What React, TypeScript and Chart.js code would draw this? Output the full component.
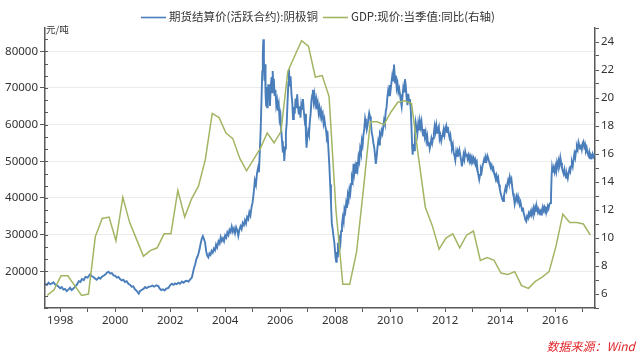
import React, { useEffect, useRef } from 'react';
import { Chart, registerables } from 'chart.js';

Chart.register(...registerables);

// ---- Data (x = position on the chart's year axis) ----
const copperDates: number[] = [
  1997.45, 1997.52, 1997.58, 1997.64, 1997.70, 1997.76, 1997.82, 1997.90, 1998.00, 1998.06,
  1998.12, 1998.18, 1998.24, 1998.30, 1998.36, 1998.42, 1998.48, 1998.55, 1998.62, 1998.68,
  1998.74, 1998.79, 1998.86, 1998.92, 1999.00, 1999.09, 1999.15, 1999.22, 1999.28, 1999.33,
  1999.40, 1999.46, 1999.52, 1999.58, 1999.64, 1999.70, 1999.76, 1999.82, 1999.88, 1999.94,
  2000.00, 2000.06, 2000.12, 2000.18, 2000.24, 2000.30, 2000.36, 2000.42, 2000.48, 2000.55,
  2000.60, 2000.66, 2000.72, 2000.78, 2000.82, 2000.86, 2000.90, 2000.96, 2001.03, 2001.09,
  2001.15, 2001.22, 2001.30, 2001.36, 2001.42, 2001.50, 2001.57, 2001.62, 2001.68, 2001.74,
  2001.80, 2001.86, 2001.94, 2002.00, 2002.06, 2002.12, 2002.18, 2002.24, 2002.30, 2002.36,
  2002.43, 2002.49, 2002.55, 2002.61, 2002.67, 2002.73, 2002.79, 2002.83, 2002.87, 2002.91,
  2002.95, 2002.99, 2003.03, 2003.07, 2003.11, 2003.15, 2003.19, 2003.23, 2003.27, 2003.31,
  2003.35, 2003.39, 2003.43, 2003.47, 2003.51, 2003.55, 2003.59, 2003.63, 2003.67, 2003.71,
  2003.76, 2003.80, 2003.84, 2003.88, 2003.92, 2003.96, 2004.00, 2004.04, 2004.08, 2004.12,
  2004.16, 2004.20, 2004.24, 2004.28, 2004.32, 2004.36, 2004.40, 2004.44, 2004.48, 2004.52,
  2004.56, 2004.60, 2004.64, 2004.68, 2004.72, 2004.76, 2004.80, 2004.84, 2004.88, 2004.92,
  2004.96, 2005.00, 2005.04, 2005.08, 2005.12, 2005.16, 2005.20, 2005.23, 2005.26, 2005.29,
  2005.32, 2005.35, 2005.37, 2005.39, 2005.41, 2005.43, 2005.45, 2005.47, 2005.49, 2005.51,
  2005.53, 2005.55, 2005.57, 2005.59, 2005.61, 2005.63, 2005.66, 2005.69, 2005.71, 2005.73,
  2005.75, 2005.77, 2005.80, 2005.83, 2005.86, 2005.89, 2005.92, 2005.95, 2005.98, 2006.01,
  2006.04, 2006.07, 2006.10, 2006.13, 2006.15, 2006.18, 2006.21, 2006.24, 2006.27, 2006.30,
  2006.32, 2006.35, 2006.38, 2006.41, 2006.44, 2006.47, 2006.50, 2006.53, 2006.56, 2006.59,
  2006.62, 2006.65, 2006.68, 2006.71, 2006.74, 2006.77, 2006.80, 2006.83, 2006.86, 2006.89,
  2006.92, 2006.94, 2006.96, 2006.99, 2007.02, 2007.05, 2007.08, 2007.11, 2007.14, 2007.17,
  2007.19, 2007.22, 2007.25, 2007.28, 2007.31, 2007.34, 2007.37, 2007.40, 2007.43, 2007.46,
  2007.49, 2007.52, 2007.55, 2007.58, 2007.61, 2007.64, 2007.67, 2007.70, 2007.73, 2007.76,
  2007.79, 2007.82, 2007.85, 2007.88, 2007.91, 2007.94, 2007.97, 2008.00, 2008.02, 2008.04,
  2008.06, 2008.08, 2008.10, 2008.13, 2008.16, 2008.19, 2008.22, 2008.25, 2008.28, 2008.31,
  2008.34, 2008.37, 2008.40, 2008.43, 2008.46, 2008.49, 2008.52, 2008.55, 2008.58, 2008.61,
  2008.64, 2008.67, 2008.70, 2008.73, 2008.76, 2008.79, 2008.82, 2008.85, 2008.88, 2008.91,
  2008.94, 2008.97, 2009.00, 2009.03, 2009.06, 2009.09, 2009.12, 2009.15, 2009.18, 2009.21,
  2009.24, 2009.27, 2009.30, 2009.33, 2009.36, 2009.39, 2009.42, 2009.45, 2009.48, 2009.51,
  2009.54, 2009.57, 2009.60, 2009.63, 2009.66, 2009.69, 2009.72, 2009.75, 2009.78, 2009.81,
  2009.84, 2009.87, 2009.90, 2009.93, 2009.96, 2009.99, 2010.02, 2010.05, 2010.08, 2010.11,
  2010.14, 2010.16, 2010.18, 2010.21, 2010.24, 2010.27, 2010.30, 2010.33, 2010.36, 2010.39,
  2010.42, 2010.45, 2010.48, 2010.51, 2010.54, 2010.57, 2010.60, 2010.63, 2010.66, 2010.69,
  2010.72, 2010.75, 2010.78, 2010.80, 2010.82, 2010.85, 2010.87, 2010.90, 2010.93, 2010.96,
  2010.99, 2011.02, 2011.05, 2011.08, 2011.11, 2011.14, 2011.17, 2011.20, 2011.23, 2011.26,
  2011.29, 2011.32, 2011.35, 2011.38, 2011.41, 2011.44, 2011.47, 2011.50, 2011.53, 2011.56,
  2011.59, 2011.62, 2011.65, 2011.68, 2011.71, 2011.74, 2011.77, 2011.80, 2011.83, 2011.86,
  2011.89, 2011.92, 2011.95, 2011.98, 2012.01, 2012.04, 2012.07, 2012.10, 2012.13, 2012.16,
  2012.19, 2012.22, 2012.25, 2012.28, 2012.31, 2012.34, 2012.37, 2012.40, 2012.43, 2012.46,
  2012.49, 2012.52, 2012.55, 2012.58, 2012.61, 2012.64, 2012.67, 2012.70, 2012.73, 2012.76,
  2012.79, 2012.82, 2012.85, 2012.88, 2012.91, 2012.94, 2012.97, 2013.00, 2013.03, 2013.06,
  2013.09, 2013.12, 2013.15, 2013.18, 2013.21, 2013.24, 2013.27, 2013.30, 2013.33, 2013.36,
  2013.39, 2013.42, 2013.45, 2013.48, 2013.51, 2013.54, 2013.57, 2013.60, 2013.63, 2013.66,
  2013.69, 2013.72, 2013.75, 2013.78, 2013.81, 2013.84, 2013.87, 2013.90, 2013.93, 2013.96,
  2013.99, 2014.02, 2014.05, 2014.08, 2014.11, 2014.14, 2014.17, 2014.20, 2014.23, 2014.26,
  2014.29, 2014.32, 2014.35, 2014.38, 2014.41, 2014.44, 2014.47, 2014.50, 2014.53, 2014.56,
  2014.59, 2014.62, 2014.65, 2014.68, 2014.71, 2014.74, 2014.77, 2014.80, 2014.83, 2014.86,
  2014.89, 2014.92, 2014.95, 2014.98, 2015.01, 2015.04, 2015.07, 2015.10, 2015.13, 2015.16,
  2015.19, 2015.22, 2015.25, 2015.28, 2015.31, 2015.34, 2015.37, 2015.40, 2015.43, 2015.46,
  2015.49, 2015.52, 2015.55, 2015.58, 2015.61, 2015.64, 2015.67, 2015.70, 2015.73, 2015.76,
  2015.79, 2015.82, 2015.85, 2015.87, 2015.89, 2015.92, 2015.95, 2015.98, 2016.01, 2016.04,
  2016.07, 2016.10, 2016.13, 2016.16, 2016.19, 2016.22, 2016.25, 2016.28, 2016.31, 2016.34,
  2016.37, 2016.40, 2016.43, 2016.46, 2016.49, 2016.52, 2016.55, 2016.58, 2016.61, 2016.64,
  2016.67, 2016.70, 2016.73, 2016.76, 2016.79, 2016.82, 2016.85, 2016.88, 2016.91, 2016.94,
  2016.97, 2017.00, 2017.03, 2017.06, 2017.09, 2017.12, 2017.15, 2017.18, 2017.21, 2017.24,
  2017.27, 2017.30, 2017.33, 2017.36, 2017.39, 2017.42, 2017.45,
];

const copperPrices: number[] = [
  16600, 16300, 16900, 16500, 16700, 17000, 16400, 16100, 15400, 15700,
  15000, 15200, 14600, 15000, 15500, 14900, 15300, 15800, 16500, 17300,
  17100, 17900, 17600, 18500, 18300, 19200, 18700, 18400, 18000, 17700,
  18300, 18000, 18500, 18800, 19100, 19600, 19900, 19400, 19500, 18900,
  18800, 18300, 18500, 17900, 17500, 17700, 17100, 17300, 16600, 16300,
  15800, 15900, 15100, 14700, 14300, 13900, 14600, 14900, 15200, 15700,
  15400, 15800, 15900, 16100, 15800, 16200, 16000, 15300, 14900, 15100,
  14800, 15300, 15500, 16200, 16600, 16300, 16700, 16500, 16900, 16600,
  17200, 16900, 17300, 17400, 17200, 17800, 18300, 19600, 21000, 21800,
  23300, 23900, 24800, 26000, 27600, 28900, 29600, 28800, 27900, 25500,
  24300, 23800, 24900, 24500, 25600, 25100, 26200, 25700, 27300, 26500,
  28200, 27600, 29300, 28300, 29000, 28200, 29800, 29200, 30600, 29900,
  31300, 30700, 32200, 30800, 31700, 30400, 32000, 31200, 29700, 31400,
  32300, 31500, 33200, 32600, 33900, 33000, 34800, 34200, 36100, 35200,
  37500, 38800, 41500, 44800, 43600, 46800, 48300, 47000, 52400, 58000,
  66000, 74500, 79000, 83300, 78000, 72000, 76500, 68500, 65200, 70300,
  64700, 67500, 71000, 66800, 69500, 65100, 70500, 73000, 68800, 74600,
  70800, 72500, 67800, 69500, 65300, 66600, 63800, 65300, 61500, 62700,
  58500, 55500, 52400, 54200, 50100, 53500, 57800, 60500, 66200, 71500,
  75100, 70400, 73200, 68600, 66200, 61500, 64800, 63000, 67100, 64500,
  68300, 65000, 62800, 64900, 61900, 65500, 64300, 67000, 63900, 61500,
  63000, 57000, 53700, 56500, 58200, 57300, 60800, 63000, 66700, 68200,
  69500, 66400, 68100, 65600, 66900, 64200, 65700, 63200, 64600, 62500,
  63800, 62100, 62900, 60300, 61500, 59800, 58500, 56300, 57000, 52800,
  48800, 43700, 38500, 33000, 31500, 29500, 28000, 25200, 23500, 22600,
  25300, 24000, 27800, 26400, 28600, 27500, 31000, 32800, 34700, 33500,
  37000, 36200, 38500, 37300, 40800, 39600, 42300, 41200, 43800, 45600,
  44700, 49300, 46800, 48500, 46900, 49800, 48200, 51200, 50100, 53400,
  52300, 55600, 54400, 57200, 58900, 61600, 60300, 58600, 59800, 61700,
  63200, 62200, 60500, 57900, 56800, 55000, 53900, 51800, 49300, 51200,
  53800, 55700, 54600, 57500, 56900, 58400, 57600, 59300, 61200, 60300,
  63600, 64700, 67500, 69300, 68000, 70800, 69600, 71700, 73500, 72000,
  76400, 74300, 71500, 73400, 70000, 71200, 68900, 69800, 68200, 66500,
  65000, 67800, 70200, 69000, 72400, 70500, 67300, 65300, 68400, 66000,
  67000, 64200, 58500, 54000, 51800, 54800, 53000, 57200, 60500, 59000,
  57500, 60200, 58400, 61000, 59400, 60800, 58300, 57000, 58800, 56700,
  57900, 55600, 56800, 54400, 55200, 53500, 54700, 56200, 55000, 56300,
  57700, 59600, 58100, 59800, 57800, 58800, 59500, 56200, 57100, 55600,
  56900, 57600, 58800, 57300, 58900, 59700, 58000, 59400, 57600, 56400,
  57200, 55200, 53700, 54600, 52300, 51600, 50300, 52500, 51200, 52800,
  52000, 53100, 51700, 50300, 48600, 50100, 51800, 50600, 52600, 51500,
  52000, 50700, 51600, 50200, 51400, 50500, 51200, 50000, 50800, 49700,
  50500, 49400, 49900, 47600, 46200, 45000, 46300, 47900, 47200, 48800,
  49600, 50600, 49800, 51000, 50300, 51500, 50800, 49900, 49100, 48300,
  48900, 47700, 48200, 46800, 46000, 45100, 46100, 44800, 45500, 43600,
  42400, 41200, 40500, 39600, 39200, 40600, 41800, 42900, 42100, 43700,
  44800, 44000, 45700, 44600, 45200, 43000, 41200, 40100, 38400, 39600,
  40500, 39300, 40400, 39000, 38100, 38900, 37700, 36500, 37400, 35700,
  35000, 34000, 33600, 35000, 34600, 35800, 35200, 36200, 35400, 36600,
  35700, 37200, 36100, 37500, 36500, 37300, 36200, 36900, 35900, 36400,
  35500, 36700, 37600, 36600, 37400, 36300, 37200, 36800, 37800, 37100,
  38200, 38600, 40200, 45600, 48300, 46900, 48200, 47100, 48600, 47300,
  49700, 48700, 50200, 49000, 51000, 49600, 48200, 47300, 46600, 47800,
  46300, 45500, 46400, 45400, 46800, 47900, 47200, 48700, 49600, 48600,
  50500, 52100, 51000, 52800, 54000, 53200, 55200, 54300, 53400, 54600,
  53300, 54900, 55400, 53900, 54600, 52900, 53600, 52200, 51600, 52500,
  50800, 51600, 51100, 52000, 51200, 51700, 51500,
];

const gdpQuarters: string[] = [
  '1997Q3', '1997Q4',
  '1998Q1', '1998Q2', '1998Q3', '1998Q4',
  '1999Q1', '1999Q2', '1999Q3', '1999Q4',
  '2000Q1', '2000Q2', '2000Q3', '2000Q4',
  '2001Q1', '2001Q2', '2001Q3', '2001Q4',
  '2002Q1', '2002Q2', '2002Q3', '2002Q4',
  '2003Q1', '2003Q2', '2003Q3', '2003Q4',
  '2004Q1', '2004Q2', '2004Q3', '2004Q4',
  '2005Q1', '2005Q2', '2005Q3', '2005Q4',
  '2006Q1', '2006Q2', '2006Q3', '2006Q4',
  '2007Q1', '2007Q2', '2007Q3', '2007Q4',
  '2008Q1', '2008Q2', '2008Q3', '2008Q4',
  '2009Q1', '2009Q2', '2009Q3', '2009Q4',
  '2010Q1', '2010Q2', '2010Q3', '2010Q4',
  '2011Q1', '2011Q2', '2011Q3', '2011Q4',
  '2012Q1', '2012Q2', '2012Q3', '2012Q4',
  '2013Q1', '2013Q2', '2013Q3', '2013Q4',
  '2014Q1', '2014Q2', '2014Q3', '2014Q4',
  '2015Q1', '2015Q2', '2015Q3', '2015Q4',
  '2016Q1', '2016Q2', '2016Q3', '2016Q4',
  '2017Q1', '2017Q2',
];

const gdpValues: number[] = [
  5.9, 6.3,
  7.3, 7.3, 6.6, 5.9,
  6.0, 10.1, 11.4, 11.5,
  9.8, 12.9, 11.1, 9.9,
  8.7, 9.1, 9.3, 10.3,
  10.3, 13.4, 11.5, 12.8,
  13.7, 15.6, 18.9, 18.6,
  17.5, 17.1, 15.7, 14.8,
  15.6, 16.4, 17.5, 16.8,
  17.6, 21.9, 23.0, 24.1,
  23.7, 21.5, 21.6, 20.1,
  12.0, 6.7, 6.7, 9.0,
  13.5, 18.3, 18.3, 18.1,
  19.0, 19.7, 19.8, 19.6,
  15.8, 12.2, 10.9, 9.2,
  10.0, 10.3, 9.3, 10.2,
  10.5, 8.4, 8.6, 8.4,
  7.5, 7.4, 7.6, 6.6,
  6.4, 6.9, 7.2, 7.6,
  9.4, 11.7, 11.1, 11.1,
  11.0, 10.2,
];

const yearTicks: number[] = [
  1998, 1999, 2000, 2001, 2002, 2003, 2004, 2005, 2006, 2007,
  2008, 2009, 2010, 2011, 2012, 2013, 2014, 2015, 2016, 2017,
];
const leftMajorTicks: number[] = [20000, 30000, 40000, 50000, 60000, 70000, 80000];
const rightTicks: number[] = [5, 6, 7, 8, 9, 10, 11, 12, 13, 14, 15, 16, 17, 18, 19, 20, 21, 22, 23, 24, 25];

const seriesNames = ['期货结算价(活跃合约):阴极铜', 'GDP:现价:当季值:同比(右轴)'];
const unitLabel = '元/吨';
const sourceLabel = '数据来源：Wind';

const BLUE = '#4a7ebb';
const GREEN = '#a2b563';
const AXIS = '#595959';
const TEXT = '#333333';

function quarterPos(q: string): number {
  const y = parseInt(q.slice(0, 4), 10);
  const n = parseInt(q.slice(5), 10);
  return y + (n - 1) * 0.25 + 0.03;
}

const overlayPlugin = {
  id: 'overlay',
  afterDraw(chart: any) {
    const ctx = chart.ctx as CanvasRenderingContext2D;
    const area = chart.chartArea;
    const yl = chart.scales.y;
    ctx.save();
    // minor inward ticks on the left axis (thirds between majors)
    ctx.strokeStyle = AXIS;
    ctx.lineWidth = 1;
    for (let i = 0; i < leftMajorTicks.length + 1; i++) {
      const base = i === 0 ? 10000 : leftMajorTicks[i - 1];
      for (let k = 0; k < 3; k++) {
        const v = base + (k * 10000) / 3;
        if (v > yl.max) continue;
        const py = Math.round(yl.getPixelForValue(v)) + 0.5;
        ctx.beginPath();
        ctx.moveTo(area.left, py);
        ctx.lineTo(area.left + 3, py);
        ctx.stroke();
      }
    }
    // unit label
    ctx.fillStyle = TEXT;
    ctx.font = '9.5px "Noto Sans CJK SC"';
    ctx.textBaseline = 'middle';
    ctx.textAlign = 'left';
    ctx.fillText(unitLabel, area.left + 1, 29);

    // legend
    ctx.font = '11.5px "Noto Sans CJK SC"';
    const lineLen = 25;
    const gapText = 3;
    const gapItem = 5;
    const widths = seriesNames.map((s) => ctx.measureText(s).width);
    const total = lineLen * 2 + gapText * 2 + gapItem + widths[0] + widths[1];
    let x = Math.round(318 - total / 2);
    const ly = 17;
    const colors = [BLUE, GREEN];
    for (let i = 0; i < 2; i++) {
      ctx.strokeStyle = colors[i];
      ctx.lineWidth = 1.6;
      ctx.beginPath();
      ctx.moveTo(x, ly + 0.5);
      ctx.lineTo(x + lineLen, ly + 0.5);
      ctx.stroke();
      x += lineLen + gapText;
      ctx.fillStyle = TEXT;
      ctx.fillText(seriesNames[i], x, ly);
      x += widths[i] + gapItem;
    }

    // source
    ctx.fillStyle = '#e0262b';
    ctx.font = 'italic 12px "Noto Sans CJK SC"';
    ctx.textAlign = 'right';
    ctx.fillText(sourceLabel, 635, 346);
    ctx.restore();
  },
};

export default function App() {
  const canvasRef = useRef<HTMLCanvasElement | null>(null);

  useEffect(() => {
    const canvas = canvasRef.current;
    if (!canvas) return;
    const tickFont = { family: '"Noto Sans", sans-serif', size: 11.5 };

    const chart = new Chart(canvas, {
      type: 'line',
      data: {
        datasets: [
          {
            label: seriesNames[1],
            data: gdpQuarters.map((q, i) => ({ x: quarterPos(q), y: gdpValues[i] })),
            borderColor: GREEN,
            borderWidth: 1.5,
            pointRadius: 0,
            tension: 0,
            yAxisID: 'y1',
            order: 0,
          },
          {
            label: seriesNames[0],
            data: copperDates.map((d, i) => ({ x: d, y: copperPrices[i] })),
            borderColor: BLUE,
            borderWidth: 1.9,
            pointRadius: 0,
            tension: 0,
            yAxisID: 'y',
            order: 1,
          },
        ],
      },
      options: {
        responsive: false,
        animation: false,
        devicePixelRatio: 1,
        layout: { padding: { top: 28, left: 0, right: 0, bottom: 0 } },
        plugins: {
          legend: { display: false },
          tooltip: { enabled: false },
        },
        scales: {
          x: {
            type: 'linear',
            min: 1997.45,
            max: 2017.45,
            afterBuildTicks: (scale: any) => {
              scale.ticks = yearTicks.map((v) => ({ value: v }));
            },
            afterFit: (scale: any) => {
              scale.height = 45;
            },
            ticks: {
              autoSkip: false,
              maxRotation: 0,
              color: TEXT,
              font: tickFont,
              padding: 2,
              callback: (v: any) => (Number(v) % 2 === 0 ? String(v) : ''),
            },
            grid: {
              drawOnChartArea: false,
              tickLength: 4,
              tickColor: AXIS,
            },
            border: { color: AXIS, width: 1.5 },
          },
          y: {
            type: 'linear',
            position: 'left',
            min: 10000,
            max: 86360,
            afterBuildTicks: (scale: any) => {
              scale.ticks = [10000, ...leftMajorTicks].map((v) => ({ value: v }));
            },
            afterFit: (scale: any) => {
              scale.width = 45;
            },
            ticks: {
              autoSkip: false,
              color: TEXT,
              font: tickFont,
              padding: 2,
              callback: (v: any) => (Number(v) >= 20000 ? String(v) : ''),
            },
            grid: {
              color: (c: any) => (c.tick && c.tick.value >= 20000 ? '#ebebeb' : 'rgba(0,0,0,0)'),
              tickColor: (c: any) => (c.tick && c.tick.value >= 20000 ? AXIS : 'rgba(0,0,0,0)'),
              tickLength: 5,
            },
            border: { color: AXIS, width: 1.5 },
          },
          y1: {
            type: 'linear',
            position: 'right',
            min: 5,
            max: 25,
            afterBuildTicks: (scale: any) => {
              scale.ticks = rightTicks.map((v) => ({ value: v }));
            },
            afterFit: (scale: any) => {
              scale.width = 45;
            },
            ticks: {
              autoSkip: false,
              color: TEXT,
              font: tickFont,
              padding: 2,
              callback: (v: any) => (Number(v) % 2 === 0 ? String(v) : ''),
            },
            grid: {
              drawOnChartArea: false,
              tickLength: 4,
              tickColor: AXIS,
            },
            border: { color: AXIS, width: 1.5 },
          },
        },
      } as any,
      plugins: [overlayPlugin],
    });

    return () => {
      chart.destroy();
    };
  }, []);

  return (
    <div style={{ position: 'absolute', left: 0, top: 0, width: 640, height: 353, background: '#fff' }}>
      <canvas ref={canvasRef} width={640} height={353} style={{ display: 'block', width: 640, height: 353 }} />
    </div>
  );
}
